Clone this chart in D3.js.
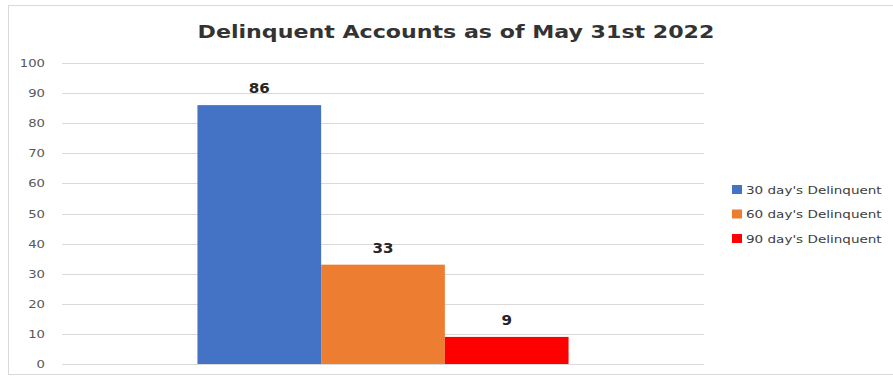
<!DOCTYPE html>
<html>
<head>
<meta charset="utf-8">
<script src="https://cdn.jsdelivr.net/npm/d3@7"></script>
<style>
  body { margin: 0; background: #fff; }
  text { font-family: "DejaVu Sans", "Open Sans", sans-serif; }
</style>
</head>
<body>
<svg id="chart"></svg>
<script>
var title = "Delinquent Accounts as of May 31st 2022";
var categories = ["May 31st 2022"];
var seriesNames = ["30 day's Delinquent", "60 day's Delinquent", "90 day's Delinquent"];
var seriesValues = [86, 33, 9];
var seriesColors = ["#4472c4", "#ed7d31", "#ff0000"];
var yTicks = [0, 10, 20, 30, 40, 50, 60, 70, 80, 90, 100];

var svgWidth = 893;
var svgHeight = 377;

var plotLeft = 62;
var plotRight = 704;
var plotTop = 63;
var plotBottom = 364;

// the reference looks stretched sideways a bit, so text gets widened too
var stretch = 1.2;

var svg = d3.select("#chart")
    .attr("width", svgWidth)
    .attr("height", svgHeight);

svg.append("rect")
    .attr("x", 8.5)
    .attr("y", 5.5)
    .attr("width", 893)
    .attr("height", 369)
    .style("fill", "#fff")
    .style("stroke", "#d9d9d9")
    .style("stroke-width", "1px");

svg.append("text")
    .attr("transform", "translate(456,38) scale(1.23,1)")
    .attr("text-anchor", "middle")
    .attr("fill", "#333333")
    .attr("font-size", "18px")
    .attr("font-weight", "bold")
    .text(title);

var yScale = d3.scaleLinear()
    .domain([0, 100])
    .range([plotBottom, plotTop]);

var xOuter = d3.scaleBand()
    .domain(categories)
    .range([plotLeft, plotRight])
    .paddingInner(0)
    .paddingOuter(0.365);

var xInner = d3.scaleBand()
    .domain(seriesNames)
    .range([0, xOuter.bandwidth()]);

// gridlines
svg.append("g")
    .selectAll("line")
    .data(yTicks)
    .enter()
    .append("line")
    .attr("x1", plotLeft)
    .attr("x2", plotRight)
    .attr("y1", d => Math.round(yScale(d)) + 0.5)
    .attr("y2", d => Math.round(yScale(d)) + 0.5)
    .attr("stroke", "#d9d9d9")
    .attr("stroke-width", "1px");

// y axis labels
var yAxis = svg.append("g")
    .attr("transform", "translate(" + (plotLeft - 17) + ",0)")
    .call(d3.axisLeft(yScale).tickValues(yTicks).tickSize(0).tickPadding(0));
yAxis.select(".domain").remove();
yAxis.selectAll("text")
    .attr("x", 0)
    .attr("transform", "scale(" + stretch + ",1)")
    .attr("fill", "#595959")
    .attr("font-size", "11px")
    .style("font-family", "'DejaVu Sans', 'Open Sans', sans-serif");

var rows = seriesNames.map(function(name, i) {
    return { cat: categories[0], name: name, value: seriesValues[i], color: seriesColors[i] };
});

var group = svg.append("g");

group.selectAll("rect")
    .data(rows)
    .enter()
    .append("rect")
    .attr("x", d => xOuter(d.cat) + xInner(d.name))
    .attr("y", d => yScale(d.value))
    .attr("width", xInner.bandwidth())
    .attr("height", d => yScale(0) - yScale(d.value))
    .attr("fill", d => d.color);

group.selectAll("text.val")
    .data(rows)
    .enter()
    .append("text")
    .attr("class", "val")
    .attr("transform", d => "translate(" + (xOuter(d.cat) + xInner(d.name) + xInner.bandwidth() / 2)
        + "," + (yScale(d.value) - 12) + ") scale(1.08,1)")
    .attr("text-anchor", "middle")
    .attr("fill", "#262626")
    .attr("font-size", "14px")
    .attr("font-weight", "bold")
    .text(d => d.value);

// legend
var legend = svg.append("g")
    .attr("transform", "translate(732,185)");

var items = legend.selectAll("g")
    .data(rows)
    .enter()
    .append("g")
    .attr("transform", (d, i) => "translate(0," + (i * 24.5) + ")");

items.append("rect")
    .attr("width", 10)
    .attr("height", 9)
    .attr("fill", d => d.color);

items.append("text")
    .attr("transform", "translate(14,8.5) scale(1.23,1)")
    .attr("fill", "#404040")
    .attr("font-size", "11px")
    .text(d => d.name);
</script>
</body>
</html>
